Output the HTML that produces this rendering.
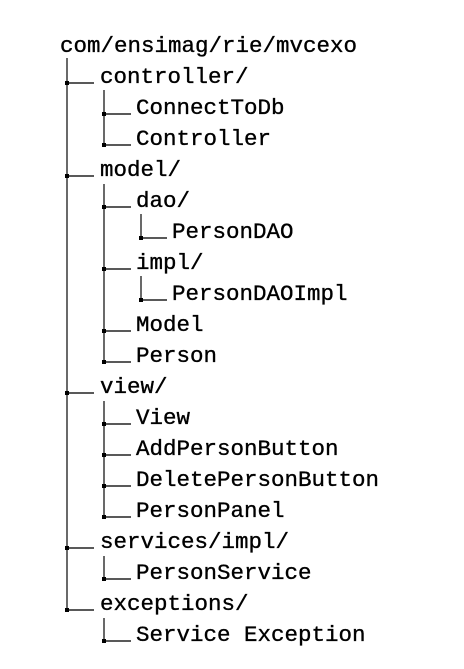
<!DOCTYPE html>
<html><head><meta charset="utf-8"><style>
html,body{margin:0;padding:0;background:#fff;}
svg{display:block;}
text{font-family:"Liberation Mono",monospace;font-size:22.5px;fill:#000;stroke:#000;stroke-width:0.35;dominant-baseline:central;}
</style></head><body>
<svg width="464" height="669" viewBox="0 0 464 669" xmlns="http://www.w3.org/2000/svg">
<g stroke="#444" stroke-width="1.6" fill="none">
<line x1="67" y1="58" x2="67" y2="610"/>
<line x1="104" y1="90" x2="104" y2="145"/>
<line x1="104" y1="184" x2="104" y2="362"/>
<line x1="104" y1="401" x2="104" y2="517"/>
<line x1="104" y1="556" x2="104" y2="579"/>
<line x1="104" y1="618" x2="104" y2="641"/>
<line x1="141" y1="214" x2="141" y2="238"/>
<line x1="141" y1="276" x2="141" y2="300"/>
</g>
<g stroke="#222" stroke-width="1.4">
<line x1="67" y1="83" x2="94" y2="83"/>
<line x1="67" y1="176" x2="94" y2="176"/>
<line x1="67" y1="393" x2="94" y2="393"/>
<line x1="67" y1="548" x2="94" y2="548"/>
<line x1="67" y1="610" x2="94" y2="610"/>
<line x1="104" y1="114" x2="131" y2="114"/>
<line x1="104" y1="145" x2="131" y2="145"/>
<line x1="104" y1="207" x2="131" y2="207"/>
<line x1="104" y1="269" x2="131" y2="269"/>
<line x1="104" y1="331" x2="131" y2="331"/>
<line x1="104" y1="362" x2="131" y2="362"/>
<line x1="104" y1="424" x2="131" y2="424"/>
<line x1="104" y1="455" x2="131" y2="455"/>
<line x1="104" y1="486" x2="131" y2="486"/>
<line x1="104" y1="517" x2="131" y2="517"/>
<line x1="104" y1="579" x2="131" y2="579"/>
<line x1="104" y1="641" x2="131" y2="641"/>
<line x1="141" y1="238" x2="167" y2="238"/>
<line x1="141" y1="300" x2="167" y2="300"/>
</g>
<g fill="#000">
<rect x="65" y="81" width="4" height="4"/>
<rect x="65" y="174" width="4" height="4"/>
<rect x="65" y="391" width="4" height="4"/>
<rect x="65" y="546" width="4" height="4"/>
<rect x="65" y="608" width="4" height="4"/>
<rect x="102" y="112" width="4" height="4"/>
<rect x="102" y="143" width="4" height="4"/>
<rect x="102" y="205" width="4" height="4"/>
<rect x="102" y="267" width="4" height="4"/>
<rect x="102" y="329" width="4" height="4"/>
<rect x="102" y="360" width="4" height="4"/>
<rect x="102" y="422" width="4" height="4"/>
<rect x="102" y="453" width="4" height="4"/>
<rect x="102" y="484" width="4" height="4"/>
<rect x="102" y="515" width="4" height="4"/>
<rect x="102" y="577" width="4" height="4"/>
<rect x="102" y="639" width="4" height="4"/>
<rect x="139" y="236" width="4" height="4"/>
<rect x="139" y="298" width="4" height="4"/>
</g>
<text x="60" y="46">com/ensimag/rie/mvcexo</text>
<text x="100" y="77">controller/</text>
<text x="136" y="108">ConnectToDb</text>
<text x="136" y="139">Controller</text>
<text x="100" y="170">model/</text>
<text x="136" y="201">dao/</text>
<text x="172" y="232">PersonDAO</text>
<text x="136" y="263">impl/</text>
<text x="172" y="294">PersonDAOImpl</text>
<text x="136" y="325">Model</text>
<text x="136" y="356">Person</text>
<text x="100" y="387">view/</text>
<text x="136" y="418">View</text>
<text x="136" y="449">AddPersonButton</text>
<text x="136" y="480">DeletePersonButton</text>
<text x="136" y="511">PersonPanel</text>
<text x="100" y="542">services/impl/</text>
<text x="136" y="573">PersonService</text>
<text x="100" y="604">exceptions/</text>
<text x="136" y="635">Service Exception</text>
</svg>
</body></html>
